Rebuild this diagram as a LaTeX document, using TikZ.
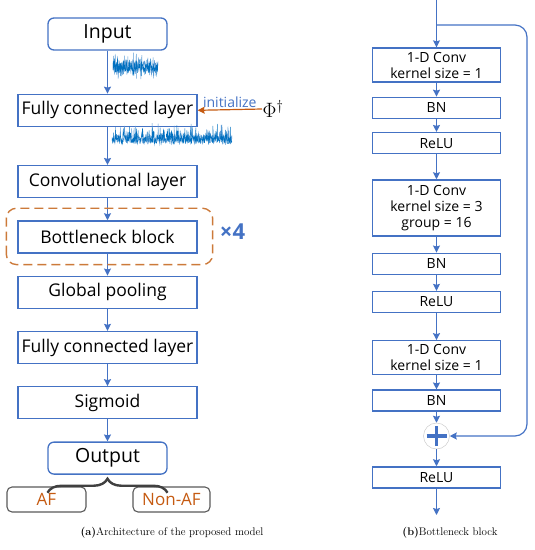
\documentclass[tikz,border=0pt]{standalone}
\usepackage{fontspec}
\newfontfamily\uifont{Open Sans}
\usepackage{tikz}
\usetikzlibrary{arrows.meta, calc, positioning, decorations.pathreplacing}
\definecolor{mBlue}{HTML}{4472C4}
\definecolor{mOrange}{HTML}{C55A11}
\definecolor{mRust}{HTML}{CC7A3A}
\definecolor{mGrey}{HTML}{595959}
\definecolor{mDark}{HTML}{404040}
\definecolor{mWave}{HTML}{0070C0}
\definecolor{mWaveLt}{HTML}{5B9BD5}

\begin{document}
\begin{tikzpicture}[x=1pt, y=1pt,
  layer/.style={draw=mBlue, line width=1.3pt, fill=white, minimum width=179pt, minimum height=32pt,
                inner sep=0pt, font=\uifont\fontsize{17.5}{19}\selectfont},
  io/.style={layer, rounded corners=6pt, minimum width=119pt, font=\uifont\fontsize{19.5}{21}\selectfont},
  blk/.style={draw=mBlue, line width=1.3pt, minimum width=128pt, minimum height=#1, inner sep=0pt,
              align=center, font=\uifont\fontsize{14}{16}\selectfont},
  blk/.default=21pt,
  cls/.style={draw=mGrey, line width=1.1pt, rounded corners=5pt, minimum width=#1, minimum height=25pt,
              inner sep=0pt, text=mOrange, font=\uifont\fontsize{17}{19}\selectfont},
  adder/.style={circle, draw=black!20, line width=0.5pt, minimum size=26pt, inner sep=0pt,
                path picture={\draw[mBlue, line width=3.8pt]
                  ([xshift=-10pt]path picture bounding box.center) -- ([xshift=10pt]path picture bounding box.center)
                  ([yshift=-10pt]path picture bounding box.center) -- ([yshift=10pt]path picture bounding box.center);}},
  dashbox/.style={draw=mRust, line width=1.4pt, dash pattern=on 9pt off 5pt, rounded corners=10pt},
  brc/.style={draw=mDark, line width=2.4pt, decorate, decoration={brace, amplitude=14pt}},
  arr/.style={-{Stealth[length=7pt, width=7pt, inset=1pt]}, line width=1.2pt, #1},
  arr/.default=mBlue,
  wave/.style={line width=0.4pt, #1},
  wave/.default=mWave,
  capt/.style={font=\fontsize{11}{13}\selectfont}]
  \useasboundingbox (0,0) rectangle (535,-550);
  % (a) main column
  \node[io] (in) at (107.5,-34) {Input};
  \node[layer, below=43pt of in] (fc1) {Fully connected layer};
  \node[layer, below=38pt of fc1] (conv) {Convolutional layer};
  \node[layer, below=22pt of conv] (bneck) {Bottleneck block};
  \node[layer, below=22pt of bneck] (gpool) {Global pooling};
  \node[layer, below=22pt of gpool] (fc2) {Fully connected layer};
  \node[layer, below=22pt of fc2] (sig) {Sigmoid};
  \node[io, below=22pt of sig] (out) {Output};
  \node[cls=79pt] (af) at (46.5,-499.5) {AF};
  \node[cls=77pt] (naf) at (171.5,-499.5) {Non-AF};
  \foreach \a/\b in {in/fc1, fc1/conv, conv/bneck, bneck/gpool, gpool/fc2, fc2/sig, sig/out}
    \draw[arr] (\a) -- (\b);
  % repeat box, init, brace
  \draw[dashbox] ($(bneck.south west)+(-11,-11)$) rectangle ($(bneck.north east)+(15,12)$);
  \node[text=mBlue, font=\uifont\bfseries\fontsize{22}{24}\selectfont] (x4) at (232.5,-232) {×4};
  \node[anchor=west, inner sep=0.5pt, font=\fontsize{21}{23}\selectfont] (phi) at (262,-109) {$\Phi^{\dagger}$};
  \draw[arr=mOrange] (phi.west) -- (fc1.east)
    node[midway, above, inner sep=1.5pt, text=mBlue, font=\uifont\fontsize{14}{16}\selectfont] {initialize};
  \draw[brc] ($(out.south)+(-60,-18)$) -- ($(out.south)+(60,-18)$);
  % signals
  \pgfmathsetseed{7}
  \draw[wave=mWaveLt] plot[domain=113:158, samples=140, variable=\t] (\t, {-67 + (5+10*rnd)*rand});
  \draw[wave] plot[domain=113:158, samples=180, variable=\t] (\t, {-67 + (3+7*rnd)*rand});
  \draw[wave=mWaveLt] plot[domain=112:232, samples=300, variable=\t] (\t, {-140 + 5*rand + 12*pow(rnd,5)});
  \draw[wave] plot[domain=112:232, samples=360, variable=\t] (\t, {-140 + 4*rand + 14*pow(rnd,7)});
  % (b) bottleneck block
  \node[blk=34pt] (c1) at (436.5,-65) {1-D Conv\\kernel size = 1};
  \node[blk, below=14pt of c1] (bn1) {BN};
  \node[blk, below=13pt of bn1] (re1) {ReLU};
  \node[blk=56pt, below=25pt of re1] (c2) {1-D Conv\\kernel size = 3\\group = 16};
  \node[blk, below=16pt of c2] (bn2) {BN};
  \node[blk, below=16pt of bn2] (re2) {ReLU};
  \node[blk=34pt, below=27pt of re2] (c3) {1-D Conv\\kernel size = 1};
  \node[blk, below=14pt of c3] (bn3) {BN};
  \node[adder] (add) at (436.5,-436) {};
  \node[blk, below=17pt of add] (re3) {ReLU};
  \coordinate (top) at (436.5,0);
  \coordinate (split) at (436.5,-25);
  \coordinate (skipx) at (527,-25);
  \coordinate (bot) at (436.5,-515);
  \draw[arr] (top) -- (c1);
  \foreach \a/\b in {c1/bn1, bn1/re1, re1/c2, c2/bn2, bn2/re2, re2/c3, c3/bn3, bn3/add, add/re3}
    \draw[arr] (\a) -- (\b);
  \draw[arr, rounded corners=12pt] (split) -- (skipx) |- (add);
  \draw[arr] (re3) -- (bot);
  % captions
  \node[capt] (capa) at (172,-533) {\textbf{(a)}Architecture of the proposed model};
  \node[capt] (capb) at (450,-533) {\textbf{(b)}Bottleneck block};
\end{tikzpicture}
\end{document}
